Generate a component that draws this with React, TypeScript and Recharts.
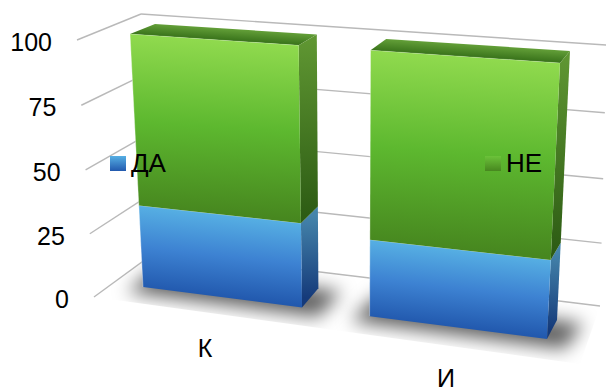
import React from 'react';
import { BarChart, Bar, XAxis, YAxis, CartesianGrid, Legend } from 'recharts';

const categories = ['К', 'И'];
const daValues = [33.5, 30];
const neValues = [66.5, 70];
const valueTicks = [0, 25, 50, 75, 100];

const WIDTH = 606;
const HEIGHT = 387;
const FONT = '"Liberation Sans", Arial, sans-serif';

const BAR_INSET = 43.5;

const chartData = categories.map((name, i) => ({ name, da: daValues[i], ne: neValues[i] }));

type Pt = [number, number];

// unit square -> quad, corners in order (0,0) (1,0) (1,1) (0,1)
const makeProjection = (q: Pt[]) => {
  const [[x0, y0], [x1, y1], [x2, y2], [x3, y3]] = q;
  const dx1 = x1 - x2;
  const dx2 = x3 - x2;
  const dy1 = y1 - y2;
  const dy2 = y3 - y2;
  const sx = x0 - x1 + x2 - x3;
  const sy = y0 - y1 + y2 - y3;
  const den = dx1 * dy2 - dx2 * dy1;
  const g = (sx * dy2 - dx2 * sy) / den;
  const h = (dx1 * sy - sx * dy1) / den;
  const a = x1 - x0 + g * x1;
  const b = x3 - x0 + h * x3;
  const d = y1 - y0 + g * y1;
  const e = y3 - y0 + h * y3;
  return (u: number, v: number): Pt => {
    const w = g * u + h * v + 1;
    return [(a * u + b * v + x0) / w, (d * u + e * v + y0) / w];
  };
};

// the view: where the walls and the two faces of the bar row end up on screen
const barFront = makeProjection([[130, 34], [560, 63], [547, 339], [143, 287]]);
const barBack = makeProjection([[155, 24], [570, 51], [557, 320], [165, 268]]);
const leftWall = makeProjection([[77, 40], [141, 14], [155.5, 252], [94, 297]]);
const backWall = makeProjection([[141, 14], [606.5, 45], [600, 306], [155.5, 252]]);
const floorQuad: Pt[] = [[94, 297], [155.5, 252], [600, 306], [580, 364]];

const toU = (x: number) => (x - BAR_INSET) / (WIDTH - 2 * BAR_INSET);
const toV = (y: number) => y / HEIGHT;

const pts = (list: Pt[]) => list.map((p) => p.join(',')).join(' ');

const FACE_COLORS: Record<string, { front: string[]; side: string[] }> = {
  da: {
    front: ['#56afe3', '#3d82d2', '#2259ae'],
    side: ['#4585ab', '#153a7a'],
  },
  ne: {
    front: ['#90da4e', '#5db82f', '#47871f'],
    side: ['#5f9632', '#2d5c14'],
  },
};

// gradient axis runs square to the first edge so the bands follow the tilt of the face
const gradientAxis = (tl: Pt, tr: Pt, bl: Pt, br: Pt) => {
  const ex = tr[0] - tl[0];
  const ey = tr[1] - tl[1];
  const len = Math.hypot(ex, ey);
  const nx = -ey / len;
  const ny = ex / len;
  const start: Pt = [(tl[0] + tr[0]) / 2, (tl[1] + tr[1]) / 2];
  const end: Pt = [(bl[0] + br[0]) / 2, (bl[1] + br[1]) / 2];
  const dist = (end[0] - start[0]) * nx + (end[1] - start[1]) * ny;
  return { x1: start[0], y1: start[1], x2: start[0] + nx * dist, y2: start[1] + ny * dist };
};

const Block = (props: any) => {
  const { x, y, width, height, index, series } = props;
  const colors = FACE_COLORS[series];
  const uL = toU(x);
  const uR = toU(x + width);
  const vT = toV(y);
  const vB = toV(y + height);

  const tl = barFront(uL, vT);
  const tr = barFront(uR, vT);
  const br = barFront(uR, vB);
  const bl = barFront(uL, vB);
  const tlBack = barBack(uL, vT);
  const trBack = barBack(uR, vT);
  const brBack = barBack(uR, vB);

  const id = `${series}-${index}`;

  return (
    <g>
      <defs>
        <linearGradient id={`front-${id}`} gradientUnits="userSpaceOnUse" {...gradientAxis(tl, tr, bl, br)}>
          <stop offset="0" stopColor={colors.front[0]} />
          <stop offset="0.5" stopColor={colors.front[1]} />
          <stop offset="1" stopColor={colors.front[2]} />
        </linearGradient>
        <linearGradient
          id={`side-${id}`}
          gradientUnits="userSpaceOnUse"
          x1={(tr[0] + trBack[0]) / 2}
          y1={(tr[1] + trBack[1]) / 2}
          x2={(br[0] + brBack[0]) / 2}
          y2={(br[1] + brBack[1]) / 2}
        >
          <stop offset="0" stopColor={colors.side[0]} />
          <stop offset="1" stopColor={colors.side[1]} />
        </linearGradient>
        <linearGradient id={`top-${id}`} gradientUnits="userSpaceOnUse" {...gradientAxis(tlBack, trBack, tl, tr)}>
          <stop offset="0" stopColor="#639f38" />
          <stop offset="1" stopColor="#38721a" />
        </linearGradient>
      </defs>
      {series === 'da' && (
        // soft contact shadow, cut off at the edges of the floor
        <g clipPath="url(#floorClip)">
          <polygon
            points={pts([
              barFront(uL - 0.045, vB + 0.03),
              barFront(uR + 0.04, vB + 0.03),
              barBack(uR + 0.06, vB),
              barBack(uL - 0.02, vB),
            ])}
            fill="#000000"
            fillOpacity={0.62}
            filter="url(#floorShadow)"
          />
        </g>
      )}
      {series === 'ne' && <polygon points={pts([tl, tlBack, trBack, tr])} fill={`url(#top-${id})`} />}
      <polygon points={pts([tr, trBack, brBack, br])} fill={`url(#side-${id})`} />
      <polygon points={pts([tl, tr, br, bl])} fill={`url(#front-${id})`} />
      <polyline points={pts([bl, tl])} fill="none" stroke="#ffffff" strokeOpacity={0.35} strokeWidth={1} />
      <polyline points={pts([tl, tr])} fill="none" stroke="#ffffff" strokeOpacity={0.2} strokeWidth={1} />
    </g>
  );
};

const GridLine = (props: any) => {
  const v = toV(props.y1);
  return (
    <g key={props.key}>
      <polyline points={pts([leftWall(0, v), leftWall(1, v)])} fill="none" stroke="#b9b9b9" strokeWidth={1.4} />
      <polyline points={pts([backWall(0, v), backWall(1, v)])} fill="none" stroke="#b9b9b9" strokeWidth={1.4} />
    </g>
  );
};

const ValueTick = (props: any) => {
  const [px, py] = leftWall(0, toV(props.y));
  return (
    <text x={px - 25} y={py + 11} textAnchor="end" fontSize={25} fontFamily={FONT} fill="#000">
      {props.payload.value}
    </text>
  );
};

const CategoryTick = (props: any) => {
  const t = (props.x - WIDTH / 4) / (WIDTH / 2);
  return (
    <text x={205 + t * 241} y={357 + t * 30} textAnchor="middle" fontSize={25} fontFamily={FONT} fill="#000">
      {props.payload.value}
    </text>
  );
};

const SWATCHES: Record<string, string> = {
  ДА: 'linear-gradient(#56afe3, #2259ae)',
  НЕ: 'linear-gradient(#6cc23a, #47871f)',
};

const LegendRow = (props: any) => (
  <div style={{ display: 'flex', justifyContent: 'space-between', alignItems: 'center' }}>
    {props.payload.map((entry: any) => (
      <div key={entry.value} style={{ display: 'flex', alignItems: 'center' }}>
        <span style={{ width: 16, height: 15, background: SWATCHES[entry.value], marginRight: 5 }} />
        <span style={{ fontFamily: FONT, fontSize: 26, lineHeight: '30px', color: '#000' }}>{entry.value}</span>
      </div>
    ))}
  </div>
);

export default function App() {
  return (
    <div style={{ position: 'absolute', left: 0, top: 0, width: WIDTH, height: HEIGHT, overflow: 'hidden', background: '#fff' }}>
      <BarChart
        width={WIDTH}
        height={HEIGHT}
        data={chartData}
        margin={{ top: 0, right: 0, bottom: 0, left: 0 }}
        barCategoryGap={BAR_INSET}
      >
        <defs>
          <filter id="floorShadow" filterUnits="userSpaceOnUse" x="0" y="200" width="606" height="187">
            <feGaussianBlur stdDeviation="9" />
          </filter>
          <clipPath id="floorClip">
            <polygon points={pts(floorQuad)} />
          </clipPath>
        </defs>
        <CartesianGrid horizontal={GridLine} vertical={false} />
        <XAxis dataKey="name" mirror axisLine={false} tickLine={false} tick={CategoryTick} interval={0} />
        <YAxis
          type="number"
          domain={[0, 100]}
          ticks={valueTicks}
          mirror
          axisLine={false}
          tickLine={false}
          tick={ValueTick}
          interval={0}
        />
        <Legend
          layout="horizontal"
          verticalAlign="middle"
          content={LegendRow}
          wrapperStyle={{ position: 'absolute', left: 110, top: 148, width: 432 }}
        />
        <Bar
          dataKey="da"
          name="ДА"
          stackId="a"
          fill="#3d82d2"
          isAnimationActive={false}
          shape={(p: any) => <Block {...p} series="da" />}
        />
        <Bar
          dataKey="ne"
          name="НЕ"
          stackId="a"
          fill="#5db82f"
          isAnimationActive={false}
          shape={(p: any) => <Block {...p} series="ne" />}
        />
      </BarChart>
    </div>
  );
}
